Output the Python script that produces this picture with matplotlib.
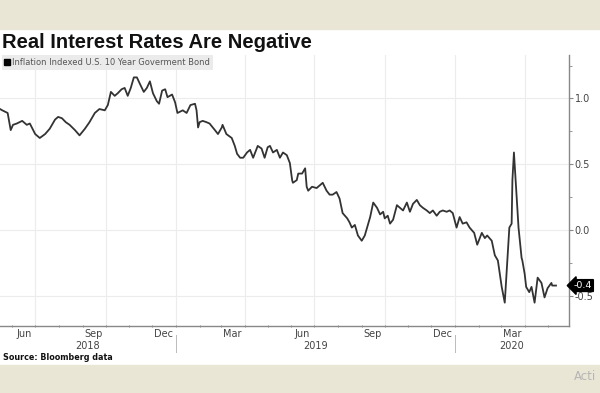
import matplotlib
matplotlib.use("Agg")
import matplotlib.pyplot as plt
import matplotlib.dates as mdates
import matplotlib.transforms as mtransforms
from matplotlib.lines import Line2D
import numpy as np

# TIPS 10y real yield
dates = ["2018-05-16", "2018-05-19", "2018-05-26", "2018-05-30", "2018-06-02", "2018-06-07",
         "2018-06-14", "2018-06-20", "2018-06-24", "2018-07-01", "2018-07-07", "2018-07-14",
         "2018-07-20", "2018-07-27", "2018-07-31", "2018-08-05", "2018-08-10", "2018-08-15",
         "2018-08-22", "2018-08-28", "2018-09-04", "2018-09-10", "2018-09-17", "2018-09-23",
         "2018-09-30", "2018-10-04", "2018-10-08", "2018-10-13", "2018-10-17", "2018-10-22",
         "2018-10-26", "2018-10-30", "2018-11-03", "2018-11-07", "2018-11-11", "2018-11-15",
         "2018-11-20", "2018-11-24", "2018-11-28", "2018-12-02", "2018-12-07", "2018-12-10",
         "2018-12-14", "2018-12-18", "2018-12-21", "2018-12-27", "2018-12-31", "2019-01-03",
         "2019-01-10", "2019-01-15", "2019-01-20", "2019-01-26", "2019-01-28", "2019-01-30",
         "2019-02-01", "2019-02-05", "2019-02-10", "2019-02-14", "2019-02-21", "2019-02-25",
         "2019-03-02", "2019-03-03", "2019-03-08", "2019-03-15", "2019-03-19", "2019-03-22",
         "2019-03-26", "2019-03-30", "2019-04-04", "2019-04-08", "2019-04-12", "2019-04-14",
         "2019-04-18", "2019-04-23", "2019-04-27", "2019-05-01", "2019-05-04", "2019-05-08",
         "2019-05-13", "2019-05-17", "2019-05-21", "2019-05-26", "2019-05-30", "2019-06-02",
         "2019-06-03", "2019-06-08", "2019-06-10", "2019-06-15", "2019-06-19", "2019-06-21",
         "2019-06-23", "2019-06-28", "2019-07-04", "2019-07-08", "2019-07-12", "2019-07-17",
         "2019-07-21", "2019-07-25", "2019-07-30", "2019-08-03", "2019-08-07", "2019-08-13",
         "2019-08-16", "2019-08-19", "2019-08-23", "2019-08-27", "2019-09-01", "2019-09-05",
         "2019-09-12", "2019-09-16", "2019-09-21", "2019-09-25", "2019-09-29", "2019-10-01",
         "2019-10-05", "2019-10-08", "2019-10-12", "2019-10-17", "2019-10-21", "2019-10-25",
         "2019-10-30", "2019-11-03", "2019-11-07", "2019-11-12", "2019-11-16", "2019-11-20",
         "2019-11-25", "2019-11-29", "2019-12-03", "2019-12-08", "2019-12-12", "2019-12-16",
         "2019-12-21", "2019-12-25", "2019-12-29", "2020-01-03", "2020-01-07", "2020-01-11",
         "2020-01-16", "2020-01-20", "2020-01-26", "2020-01-30", "2020-02-05", "2020-02-09",
         "2020-02-12", "2020-02-18", "2020-02-22", "2020-02-26", "2020-03-02", "2020-03-06",
         "2020-03-10", "2020-03-12", "2020-03-15", "2020-03-16", "2020-03-18", "2020-03-21",
         "2020-03-24", "2020-03-28", "2020-03-29", "2020-04-01", "2020-04-03", "2020-04-07",
         "2020-04-10", "2020-04-14", "2020-04-18", "2020-04-23", "2020-04-27", "2020-05-01",
         "2020-05-06", "2020-05-07", "2020-05-12"]
values = [0.92, 0.91, 0.89, 0.76, 0.80, 0.81,
          0.83, 0.80, 0.81, 0.73, 0.70, 0.73,
          0.77, 0.84, 0.86, 0.85, 0.82, 0.80,
          0.76, 0.72, 0.77, 0.82, 0.89, 0.92,
          0.91, 0.95, 1.05, 1.02, 1.04, 1.07,
          1.08, 1.02, 1.08, 1.16, 1.16, 1.11,
          1.05, 1.08, 1.13, 1.04, 0.98, 0.96,
          1.06, 1.07, 1.01, 1.03, 0.97, 0.89,
          0.91, 0.89, 0.95, 0.96, 0.91, 0.78,
          0.82, 0.83, 0.82, 0.81, 0.76, 0.73,
          0.78, 0.80, 0.73, 0.70, 0.64, 0.58,
          0.55, 0.55, 0.59, 0.61, 0.55, 0.58,
          0.64, 0.62, 0.55, 0.63, 0.64, 0.59,
          0.61, 0.55, 0.59, 0.57, 0.51, 0.38,
          0.36, 0.38, 0.43, 0.43, 0.47, 0.33,
          0.30, 0.33, 0.32, 0.34, 0.36, 0.30,
          0.27, 0.27, 0.29, 0.24, 0.13, 0.09,
          0.06, 0.02, 0.04, -0.04, -0.08, -0.04,
          0.10, 0.21, 0.17, 0.12, 0.14, 0.09,
          0.11, 0.05, 0.08, 0.19, 0.17, 0.15,
          0.21, 0.14, 0.20, 0.23, 0.19, 0.17,
          0.15, 0.13, 0.15, 0.11, 0.14, 0.15,
          0.14, 0.15, 0.13, 0.02, 0.10, 0.05,
          0.06, 0.02, -0.02, -0.11, -0.02, -0.06,
          -0.04, -0.08, -0.19, -0.23, -0.43, -0.55,
          -0.17, 0.02, 0.05, 0.38, 0.59, 0.30,
          0.02, -0.21, -0.23, -0.33, -0.43, -0.47,
          -0.43, -0.55, -0.36, -0.40, -0.51, -0.44,
          -0.40, -0.42, -0.42]

month_labels = ["Jun", "Sep", "Dec", "Mar", "Jun", "Sep", "Dec", "Mar"]
month_label_dates = ["2018-06-16", "2018-09-15", "2018-12-16", "2019-03-16",
                     "2019-06-15", "2019-09-15", "2019-12-16", "2020-03-16"]
grid_dates = ["2018-07-01", "2018-10-01", "2019-01-01", "2019-04-01", "2019-07-01",
              "2019-10-01", "2020-01-01", "2020-04-01"]
years = ["2018", "2019", "2020"]
year_centers = ["2018-09-08", "2019-07-02", "2020-03-15"]
year_breaks = ["2019-01-01", "2020-01-01"]
last_label = "-0.4"

plt.rcParams["axes.unicode_minus"] = False

fig = plt.figure(figsize=(6, 3.93), dpi=100)
fig.patch.set_facecolor("white")

W, H = 600.0, 393.0
band = "#e9e6d6"
fig.patches.append(plt.Rectangle((0, 1 - 29 / H), 1, 29 / H, transform=fig.transFigure,
                                 color=band, zorder=0))
fig.patches.append(plt.Rectangle((0, 0), 1, 28 / H, transform=fig.transFigure,
                                 color=band, zorder=0))

ax = fig.add_axes([0, 1 - 326 / H, 569 / W, (326 - 55) / H])
x = mdates.datestr2num(dates)
ax.plot(x, values, color="#333333", linewidth=1.3, zorder=3)

ax.set_xlim(mdates.datestr2num("2018-05-16"), mdates.datestr2num("2020-05-29"))
ax.set_ylim(-0.727, 1.33)

for s in ["left", "top"]:
    ax.spines[s].set_visible(False)
for s in ["right", "bottom"]:
    ax.spines[s].set_color("#888888")
    ax.spines[s].set_linewidth(1.0)

# y axis on the right
ax.yaxis.tick_right()
ax.set_yticks([-0.5, 0.0, 0.5, 1.0])
ax.set_yticklabels(["-0.5", "0.0", "0.5", "1.0"])
ax.set_yticks(np.arange(-0.5, 1.3, 0.25), minor=True)
ax.tick_params(axis="y", which="major", length=3, width=0.8, color="#888888",
               labelsize=7, labelcolor="#444444", pad=1)
ax.tick_params(axis="y", which="minor", length=2, width=0.6, color="#888888")
ax.grid(axis="y", which="major", color="#ececec", linewidth=0.8)

# x axis: month ticks, labels mid-month
ax.xaxis.set_major_locator(mdates.MonthLocator())
ax.xaxis.set_major_formatter(plt.NullFormatter())
ax.tick_params(axis="x", which="major", length=2, width=0.7, color="#888888", direction="inout")
ax.set_xticks(mdates.datestr2num(month_label_dates), minor=True)
ax.set_xticklabels(month_labels, minor=True)
ax.tick_params(axis="x", which="minor", length=0, labelsize=7, labelcolor="#444444", pad=2.5)

for d in mdates.datestr2num(grid_dates):
    ax.axvline(d, color="#ececec", linewidth=0.8, zorder=1)

trans = mtransforms.blended_transform_factory(ax.transData, ax.transAxes)
for yr, c in zip(years, year_centers):
    ax.text(mdates.datestr2num(c), -0.074, yr, transform=trans, ha="center", va="center",
            fontsize=7, color="#444444")
for b in year_breaks:
    ax.plot([mdates.datestr2num(b)] * 2, [-0.035, -0.095], transform=trans,
            color="#bbbbbb", linewidth=0.7, clip_on=False)

# last value tag
ytrans = mtransforms.blended_transform_factory(ax.transAxes, ax.transData)
ax.text(1.008, values[-1], last_label, transform=ytrans, ha="left", va="center",
        fontsize=6.8, color="white", zorder=5,
        bbox=dict(boxstyle="larrow,pad=0.15", fc="black", ec="black"))

# legend
h = Line2D([], [], marker="s", color="none", markerfacecolor="black",
           markeredgecolor="black", markersize=3.8)
leg = ax.legend([h], ["Inflation Indexed U.S. 10 Year Goverment Bond"], loc="upper left",
                bbox_to_anchor=(0.003, 1.0), fontsize=6, frameon=True, fancybox=False,
                handlelength=0.6, handletextpad=0.3, borderpad=0.35, borderaxespad=0)
leg.get_frame().set_facecolor("#ebebeb")
leg.get_frame().set_edgecolor("none")
leg.get_frame().set_alpha(1)
for t in leg.get_texts():
    t.set_color("#555555")

fig.text(2 / W, 1 - 42 / H, "Real Interest Rates Are Negative", fontsize=14.5,
         fontweight="bold", family="Liberation Sans", color="#111111",
         ha="left", va="center")
fig.text(3 / W, 1 - 358 / H, "Source: Bloomberg data", fontsize=5.8,
         fontweight="bold", color="#111111", ha="left", va="center")
fig.text(574 / W, 1 - 376 / H, "Acti", fontsize=8.5, color="#b5b5b5", ha="left", va="center")

fig.savefig("out.png", dpi=100)
